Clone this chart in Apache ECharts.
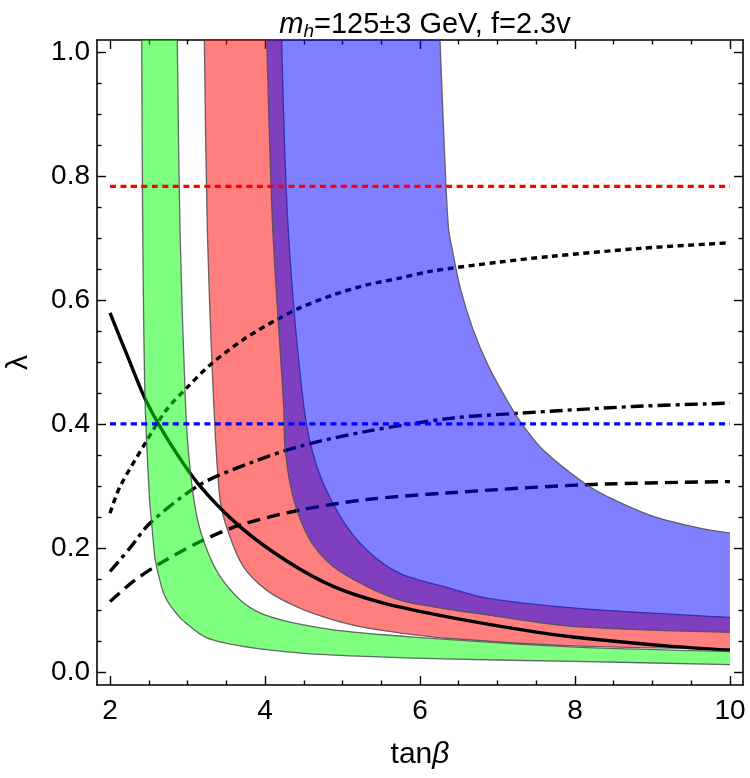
<!DOCTYPE html>
<html>
<head>
<meta charset="utf-8">
<script src="https://cdn.jsdelivr.net/npm/echarts@6/dist/echarts.min.js"></script>
<style>
html, body { margin: 0; padding: 0; background: #fff; }
#main { width: 750px; height: 778px; }
</style>
</head>
<body>
<div id="main"></div>
<script>
var FONT = "'Liberation Sans', Arial, sans-serif";

// axis ranges and ticks
var xMin = 1.832, xMax = 10.168;
var yMin = -0.02, yMax = 1.02;
var xTicks = [2, 4, 6, 8, 10];
var xMinor = [2.5, 3, 3.5, 4.5, 5, 5.5, 6.5, 7, 7.5, 8.5, 9, 9.5];
var yTicks = [0, 0.2, 0.4, 0.6, 0.8, 1.0];
var yMinor = [0.05, 0.1, 0.15, 0.25, 0.3, 0.35, 0.45, 0.5, 0.55, 0.65, 0.7, 0.75, 0.85, 0.9, 0.95];

// bands: [tanB, lambda] along lower/left edge and upper/right edge
var greenLow = [[2.409,1.02],[2.422,0.714],[2.452,0.44],[2.51,0.28],[2.545,0.23],[2.58,0.185],[2.63,0.155],[2.70,0.125],[2.79,0.106],[2.95,0.083],[3.25,0.056],[3.78,0.041],[4.5,0.031],[5.31,0.026],[6.3,0.022],[8.0,0.018],[10,0.013]];
var greenHigh = [[2.868,1.02],[2.903,0.714],[2.975,0.43],[3.03,0.332],[3.12,0.252],[3.25,0.198],[3.42,0.155],[3.68,0.117],[3.94,0.096],[4.37,0.080],[4.88,0.069],[5.53,0.061],[6.39,0.053],[8.0,0.041],[10,0.034]];
var redLow = [[3.217,1.02],[3.256,0.714],[3.34,0.43],[3.42,0.279],[3.53,0.225],[3.72,0.171],[4.02,0.133],[4.41,0.106],[4.88,0.085],[5.31,0.072],[5.74,0.064],[6.39,0.055],[8.0,0.043],[10,0.038]];
var redHigh = [[4.215,1.02],[4.30,0.714],[4.50,0.43],[4.67,0.332],[4.97,0.252],[5.31,0.198],[5.74,0.160],[6.39,0.136],[6.86,0.120],[8.0,0.104],[10,0.089]];
var blueLow = [[4.022,1.02],[4.10,0.714],[4.24,0.43],[4.26,0.359],[4.37,0.279],[4.58,0.214],[4.88,0.171],[5.31,0.139],[5.74,0.117],[6.17,0.106],[6.86,0.093],[8.0,0.074],[10,0.065]];
var blueHigh = [[6.258,1.02],[6.33,0.80],[6.37,0.714],[6.42,0.68],[6.52,0.62],[6.68,0.555],[6.88,0.495],[7.12,0.44],[7.31,0.402],[7.59,0.359],[8.15,0.303],[8.5,0.279],[9.01,0.252],[9.61,0.233],[10,0.225]];

// black curves
var solidCurve = [[2,0.58],[2.236,0.507],[2.47,0.437],[2.774,0.37],[3.16,0.301],[3.68,0.235],[4.28,0.180],[4.88,0.139],[5.53,0.112],[6.39,0.089],[7.46,0.066],[8,0.057],[9.18,0.043],[10,0.036]];
var dottedCurve = [[2,0.257],[2.13,0.30],[2.47,0.373],[2.73,0.424],[2.99,0.459],[3.29,0.496],[3.72,0.537],[4.15,0.569],[4.45,0.588],[4.88,0.609],[5.31,0.625],[5.74,0.636],[6.13,0.647],[7.03,0.662],[7.68,0.671],[8.84,0.684],[10,0.693]];
var dashDotCurve = [[2,0.163],[2.258,0.201],[2.516,0.241],[3.16,0.303],[3.81,0.338],[4.45,0.365],[5.31,0.389],[6.39,0.41],[7.25,0.418],[8.75,0.429],[10,0.4345]];
var dashedCurve = [[2,0.1145],[2.3,0.147],[2.645,0.176],[3.16,0.211],[3.68,0.238],[4.45,0.262],[5.31,0.279],[6.39,0.290],[8.15,0.303],[10,0.308]];

// horizontal limits
var redLimit = [[2,0.784],[10,0.784]];
var blueLimit = [[2,0.401],[10,0.401]];

function band(name, low, high, fill, z) {
    return {
        name: name,
        type: 'custom',
        z: z,
        clip: true,
        silent: true,
        data: [[low[0][0], low[0][1]]],
        renderItem: function (params, api) {
            var a = low.map(function (p) { return api.coord(p); });
            var b = high.map(function (p) { return api.coord(p); });
            var rb = b.slice().reverse();
            // repeat the four corners so the smoothing keeps them sharp
            var ring = [a[0]].concat(a, [a[a.length - 1]], [rb[0]], rb, [rb[rb.length - 1]]);
            var edge = { stroke: 'rgba(80,80,80,0.85)', lineWidth: 1.3, fill: null };
            return {
                type: 'group',
                children: [
                    { type: 'polygon', shape: { points: ring, smooth: 0.3 }, style: { fill: fill } },
                    { type: 'polyline', shape: { points: a, smooth: 0.3 }, style: edge },
                    { type: 'polyline', shape: { points: b, smooth: 0.3 }, style: edge }
                ]
            };
        }
    };
}

function curve(data, dash, color, z) {
    return {
        type: 'line',
        data: data,
        z: z,
        showSymbol: false,
        smooth: 0.3,
        silent: true,
        lineStyle: { color: color, width: 3.4, type: dash, cap: 'butt' }
    };
}

function xAx(pos, ticks, len, major) {
    return {
        type: 'value', min: xMin, max: xMax, position: pos,
        axisLine: { show: major, onZero: false, lineStyle: { color: '#000', width: 1.6 } },
        axisTick: { show: true, inside: true, length: len, customValues: ticks, lineStyle: { color: '#000', width: 1.4 } },
        axisLabel: { show: major && pos === 'bottom', customValues: xTicks, color: '#000', fontSize: 28, fontFamily: FONT, margin: 12 },
        splitLine: { show: false }
    };
}

function yAx(pos, ticks, len, major) {
    return {
        type: 'value', min: yMin, max: yMax, position: pos,
        axisLine: { show: major, onZero: false, lineStyle: { color: '#000', width: 1.6 } },
        axisTick: { show: true, inside: true, length: len, customValues: ticks, lineStyle: { color: '#000', width: 1.4 } },
        axisLabel: {
            show: major && pos === 'left', customValues: yTicks, color: '#000', fontSize: 28, fontFamily: FONT, margin: 7,
            formatter: function (v) { return v.toFixed(1); }
        },
        splitLine: { show: false }
    };
}

var xAxes = [xAx('bottom', xTicks, 9, true), xAx('bottom', xMinor, 4.5, false), xAx('top', xTicks, 9, true), xAx('top', xMinor, 4.5, false)];
xAxes[0].name = '{a|tan}{b|β}';
xAxes[0].nameLocation = 'middle';
xAxes[0].nameGap = 55;
xAxes[0].nameTextStyle = {
    rich: {
        a: { fontSize: 30, fontFamily: FONT, color: '#000' },
        b: { fontSize: 30, fontFamily: FONT, color: '#000', fontStyle: 'italic' }
    }
};
var yAxes = [yAx('left', yTicks, 9, true), yAx('left', yMinor, 4.5, false), yAx('right', yTicks, 9, true), yAx('right', yMinor, 4.5, false)];
yAxes[0].name = 'λ';
yAxes[0].nameLocation = 'middle';
yAxes[0].nameGap = 63;
yAxes[0].nameRotate = 90;
yAxes[0].nameTextStyle = { fontSize: 30, fontFamily: FONT, color: '#000' };

var option = {
    animation: false,
    backgroundColor: '#fff',
    title: {
        text: '{m|m}{h|h}{r|=125±3 GeV, f=2.3v}',
        left: 420, top: 4, textAlign: 'center',
        textStyle: {
            fontWeight: 'normal',
            rich: {
                m: { fontSize: 29, fontFamily: FONT, fontStyle: 'italic', fontWeight: 'normal', color: '#000', lineHeight: 32 },
                h: { fontSize: 19, fontFamily: FONT, fontStyle: 'italic', fontWeight: 'normal', color: '#000', lineHeight: 19, verticalAlign: 'bottom' },
                r: { fontSize: 29, fontFamily: FONT, fontWeight: 'normal', color: '#000', lineHeight: 32 }
            }
        }
    },
    grid: { left: 97, right: 7, top: 40, bottom: 93, outerBoundsMode: 'none' },
    xAxis: xAxes,
    yAxis: yAxes,
    series: [
        band('red', redLow, redHigh, 'rgba(255,0,0,0.5)', 1),
        curve(solidCurve, 'solid', '#000', 2),
        curve(dottedCurve, [6, 4.5], '#000', 2),
        curve(dashDotCurve, [13, 5, 4, 5], '#000', 2),
        curve(dashedCurve, [13, 7], '#000', 2),
        band('green', greenLow, greenHigh, 'rgba(0,255,0,0.5)', 3),
        band('blue', blueLow, blueHigh, 'rgba(0,0,255,0.5)', 4),
        curve(redLimit, [6, 4.5], '#ff0000', 5),
        curve(blueLimit, [6, 4.5], '#0000ff', 5)
    ]
};

var myChart = echarts.init(document.getElementById('main'));
myChart.setOption(option);
</script>
</body>
</html>
